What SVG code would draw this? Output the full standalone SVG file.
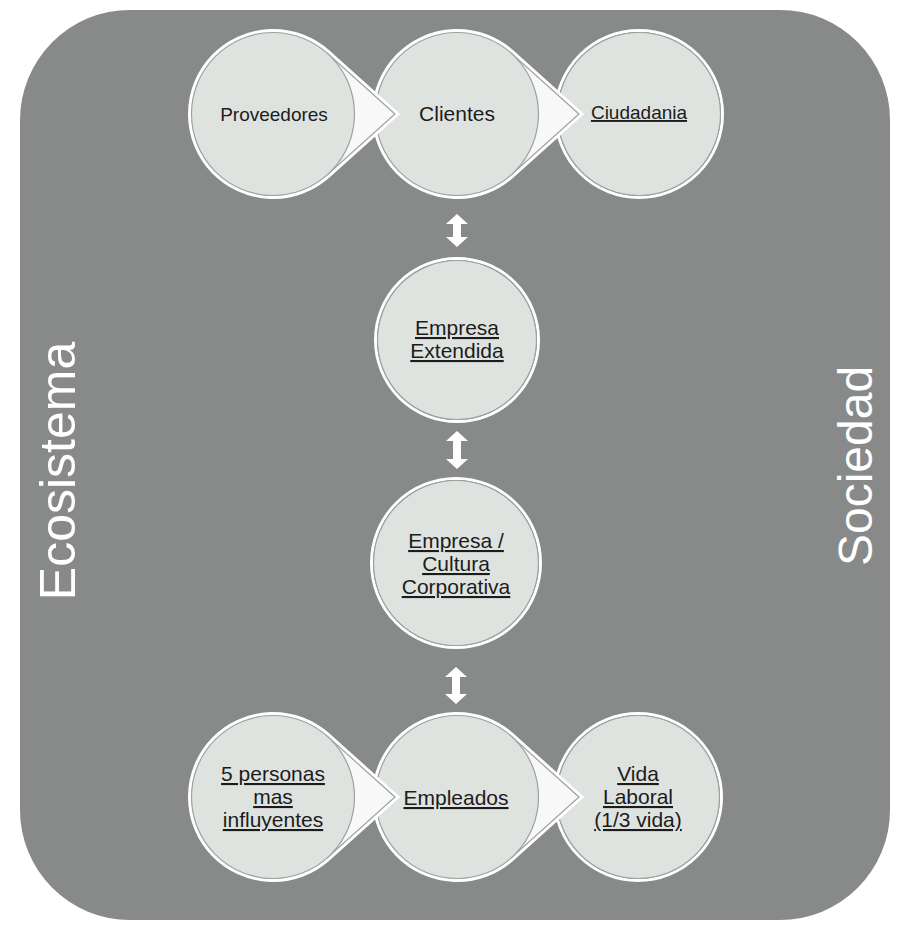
<svg xmlns="http://www.w3.org/2000/svg" width="913" height="937" viewBox="0 0 913 937">
<style>
.bg{fill:#878a89}
.halo{fill:#ffffff;stroke:#ffffff;stroke-width:3;stroke-linejoin:miter}
.ring{fill:none;stroke:#ffffff;stroke-width:3}
.tri{fill:#f7f8f7;stroke:#9da19f;stroke-width:1.2;stroke-linejoin:miter}
.disc{fill:#dfe3e0;stroke:#9da19f;stroke-width:1.2}
.lbl{font-family:"Liberation Sans",Arial,sans-serif;fill:#1c1c1c;text-anchor:middle}
.u{text-decoration:underline}
.side{font-family:"Liberation Sans",Arial,sans-serif;fill:#ffffff;text-anchor:middle}
.arr{fill:#ffffff}
</style>
<rect class="bg" x="20" y="10" width="870" height="910" rx="110" ry="110"/>
<text class="side" font-size="50" transform="translate(75,471) rotate(-90)">Ecosistema</text>
<text class="side" font-size="48" transform="translate(872,466) rotate(-90)">Sociedad</text>

<g id="connectors">
<path class="arr" d="M457,214 L468,224 L461,224 L461,237 L468,237 L457,247 L446,237 L453,237 L453,224 L446,224 Z"/>
<path class="arr" d="M457,431 L468,441 L461,441 L461,459 L468,459 L457,469 L446,459 L453,459 L453,441 L446,441 Z"/>
<path class="arr" d="M456,667 L467,677 L460,677 L460,694 L467,694 L456,704 L445,694 L452,694 L452,677 L445,677 Z"/>
</g>

<g id="ciudadania">
<circle class="ring" cx="639" cy="114" r="83.5"/>
<circle class="disc" cx="639" cy="114" r="81.5"/>
<text class="lbl u" x="639" y="119" font-size="19">Ciudadania</text>
</g>
<g id="clientes">
<path class="halo" d="M582,114 L512.8,51.9 A83.5 83.5 0 1 0 512.8,176.1 Z"/>
<polygon class="tri" points="579,114 511.4,53.4 511.4,174.6"/>
<circle class="disc" cx="457" cy="114" r="81.5"/>
<text class="lbl" x="457" y="121" font-size="21">Clientes</text>
</g>
<g id="proveedores">
<path class="halo" d="M398,114 L328.8,51.9 A83.5 83.5 0 1 0 328.8,176.1 Z"/>
<polygon class="tri" points="395,114 327.4,53.4 327.4,174.6"/>
<circle class="disc" cx="273" cy="114" r="81.5"/>
<text class="lbl" x="274" y="121" font-size="19">Proveedores</text>
</g>

<g id="empresa-extendida">
<circle class="ring" cx="457" cy="340" r="81.5"/>
<circle class="disc" cx="457" cy="340" r="79.5"/>
<text class="lbl u" font-size="21"><tspan x="457" y="335">Empresa</tspan><tspan x="457" y="358">Extendida</tspan></text>
</g>

<g id="empresa-cultura">
<circle class="ring" cx="456" cy="563" r="84.5"/>
<circle class="disc" cx="456" cy="563" r="82.5"/>
<text class="lbl u" font-size="21"><tspan x="456" y="548">Empresa /</tspan><tspan x="456" y="571">Cultura</tspan><tspan x="456" y="594">Corporativa</tspan></text>
</g>

<g id="vida-laboral">
<circle class="ring" cx="638" cy="797" r="83.5"/>
<circle class="disc" cx="638" cy="797" r="81.5"/>
<text class="lbl u" font-size="21"><tspan x="638" y="781">Vida</tspan><tspan x="638" y="804">Laboral</tspan><tspan x="638" y="827">(1/3 vida)</tspan></text>
</g>
<g id="empleados">
<path class="halo" d="M582,797 L512.8,734.9 A83.5 83.5 0 1 0 512.8,859.1 Z"/>
<polygon class="tri" points="579,797 511.4,736.4 511.4,857.6"/>
<circle class="disc" cx="457" cy="797" r="81.5"/>
<text class="lbl u" x="456" y="805" font-size="21">Empleados</text>
</g>
<g id="cinco-personas">
<path class="halo" d="M398,797 L328.8,734.9 A83.5 83.5 0 1 0 328.8,859.1 Z"/>
<polygon class="tri" points="395,797 327.4,736.4 327.4,857.6"/>
<circle class="disc" cx="273" cy="797" r="81.5"/>
<text class="lbl u" font-size="21"><tspan x="273" y="781">5 personas</tspan><tspan x="273" y="804">mas</tspan><tspan x="273" y="827">influyentes</tspan></text>
</g>
</svg>
